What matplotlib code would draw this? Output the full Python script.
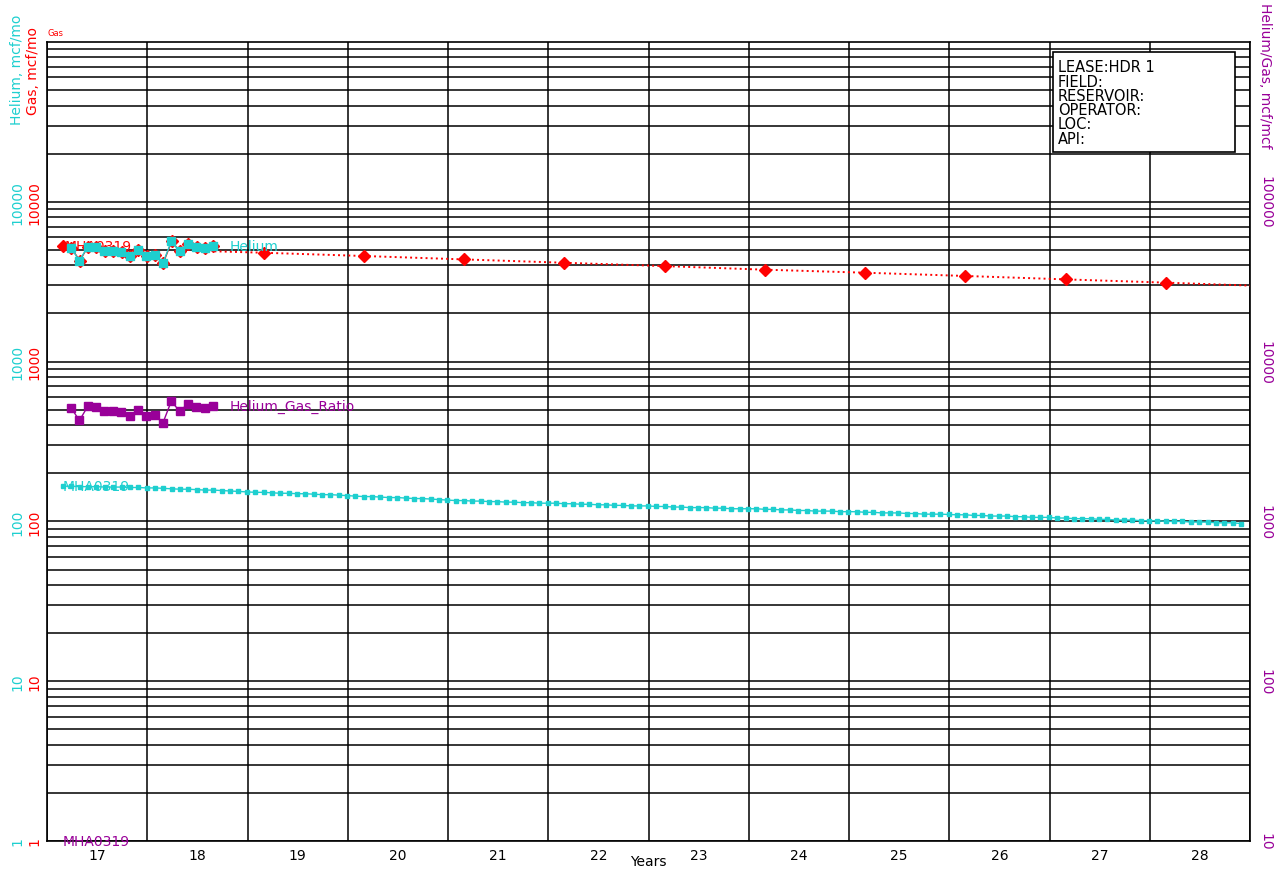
import numpy as np
import matplotlib
matplotlib.use("Agg")
import matplotlib.pyplot as plt
from matplotlib.ticker import LogLocator, NullFormatter, FixedLocator
from matplotlib.patches import Rectangle

# colours used for each stream
GAS_C = '#ff0000'
HE_C = '#1ecfcf'
RATIO_C = '#990099'

# monthly history, first month of gas is Feb/Mar 2017
gas_start = 2017.16
he_start = 2017.24
gas_hist = [5310, 5140, 4280, 5250, 5180, 4940, 4940, 4820, 4550, 5010,
            4550, 4620, 4140, 5650, 4890, 5440, 5180, 5140, 5310]
he_hist = [5140, 4280, 5250, 5180, 4940, 4940, 4820, 4550, 5010,
           4550, 4620, 4140, 5650, 4890, 5440, 5180, 5140, 5310]
ratio_hist = [5140, 4280, 5250, 5180, 4940, 4940, 4820, 4550, 5010,
              4550, 4620, 4140, 5650, 4890, 5440, 5180, 5140, 5310]

# gas forecast, yearly points
gas_fc_years = [2018.67, 2019.16, 2020.16, 2021.16, 2022.16, 2023.16, 2024.16,
                2025.16, 2026.16, 2027.16, 2028.16, 2029.0]
gas_fc = [4900, 4800, 4580, 4360, 4155, 3960, 3760, 3600, 3435, 3270, 3120, 2990]

# helium forecast, monthly
he_fc = [166, 166, 165, 165, 165, 164, 164, 164, 163, 163,
         162, 162, 161, 160, 159, 159, 158, 157, 157, 156, 155, 154,
         153, 152, 152, 151, 150, 150, 149, 149, 148, 147, 147, 146,
         145, 144, 143, 143, 142, 141, 141, 140, 139, 139, 138, 137,
         136, 135, 135, 134, 134, 133, 133, 132, 132, 131, 131, 130,
         130, 130, 129, 129, 128, 128, 127, 127, 126, 126, 125, 125,
         125, 124, 124, 123, 123, 122, 122, 122, 121, 121, 120, 120,
         120, 120, 119, 119, 118, 118, 117, 117, 116, 116, 116, 115,
         115, 115, 114, 114, 113, 113, 113, 112, 112, 111, 111, 111,
         110.5, 110, 110, 109, 109, 108, 108, 108, 107, 107, 106, 106,
         106, 105, 105, 104, 104, 104, 103, 103, 102, 102, 102, 101,
         101, 101, 100, 100, 100, 99, 99, 99, 98, 98, 98, 97]

years = list(range(2017, 2030))
year_labels = ['17', '18', '19', '20', '21', '22', '23', '24', '25', '26', '27', '28']
well = 'MHA0319'
lease_info = ['LEASE:HDR 1', 'FIELD:', 'RESERVOIR:', 'OPERATOR:', 'LOC:', 'API:']

gas_t = gas_start + np.arange(len(gas_hist)) / 12
he_t = he_start + np.arange(len(he_hist)) / 12
fc_t = gas_start + np.arange(len(he_fc)) / 12

plt.rcParams['font.family'] = 'DejaVu Sans'
fig = plt.figure(figsize=(12.78, 8.70), dpi=100)
ax = fig.add_axes([47/1278, 28/870, 1203/1278, 799/870])
ax_he = ax.twinx()
ax_r = ax.twinx()

for a in (ax, ax_he):
    a.set_yscale('log')
    a.set_ylim(1, 1e5)
ax_r.set_yscale('log')
ax_r.set_ylim(10, 1e6)
ax.set_xlim(2017, 2029)

# grid: every year, every log step
ax.set_xticks(years)
ax.set_xticklabels([])
ax.set_xticks([y + 0.5 for y in years[:-1]], minor=True)
ax.set_xticklabels(year_labels, minor=True)
ax.tick_params(axis='x', which='both', length=0, pad=5, labelsize=10)
ax.yaxis.set_minor_locator(LogLocator(base=10, subs=range(2, 10)))
ax.yaxis.set_minor_formatter(NullFormatter())
ax.grid(axis='x', which='major', color='black', lw=1.1)
ax.grid(axis='y', which='both', color='black', lw=1.1)
ax.set_axisbelow(True)
for s in ax.spines.values():
    s.set_linewidth(1.2)
fig.text(648/1278, 1 - 862/870, 'Years', fontsize=10, ha='center', va='center')

# left labels: gas (inner, red) and helium (outer, cyan)
ax.yaxis.set_major_locator(FixedLocator([1, 10, 100, 1000, 10000]))
ax.set_yticklabels(['1', '10', '100', '1000', '10000'])
ax.tick_params(axis='y', which='both', length=0, pad=4, labelsize=10,
               labelcolor=GAS_C, labelrotation=90)

ax_he.yaxis.tick_left()
ax_he.spines['left'].set_position(('outward', 12))
for s in ax_he.spines.values():
    s.set_visible(False)
ax_he.yaxis.set_major_locator(FixedLocator([1, 10, 100, 1000, 10000]))
ax_he.set_yticklabels(['1', '10', '100', '1000', '10000'])
ax_he.yaxis.set_minor_formatter(NullFormatter())
ax_he.tick_params(axis='y', which='both', length=0, pad=4, labelsize=10,
                  labelcolor=HE_C, labelrotation=90)

ax_r.yaxis.set_major_locator(FixedLocator([10, 100, 1000, 10000, 100000]))
ax_r.set_yticklabels(['10', '100', '1000', '10000', '100000'])
ax_r.yaxis.set_minor_formatter(NullFormatter())
for s in ax_r.spines.values():
    s.set_visible(False)
ax_r.tick_params(axis='y', which='both', length=0, pad=6, labelsize=10,
                 labelcolor=RATIO_C, labelrotation=-90)

# rotated labels sit centred on their tick
for a in (ax, ax_he, ax_r):
    for lab in a.get_yticklabels():
        lab.set_verticalalignment('center')

# gas history and forecast
ax.text(gas_t[0] + 0.02, gas_hist[0], well, color=GAS_C, fontsize=10,
        ha='left', va='center', zorder=2)
ax.plot(gas_t, gas_hist, color=GAS_C, lw=1, marker='D', ms=6.5, zorder=3)
ax.plot(gas_fc_years, gas_fc, color=GAS_C, lw=1.4, ls=':', marker='D', ms=6,
        markevery=slice(1, -1), zorder=3)

# helium history and forecast
ax_he.plot(he_t, he_hist, color=HE_C, lw=1, marker='s', ms=5.5, zorder=3)
ax_he.plot(fc_t, he_fc, color=HE_C, lw=1, marker='s', ms=3.5, zorder=3)
ax_he.text(fc_t[0], he_fc[0], well, color=HE_C, fontsize=10, ha='left', va='center')
ax_he.annotate('Helium', (he_t[-1], he_hist[-1]), xytext=(12, 0),
               textcoords='offset points', color=HE_C, fontsize=10, va='center')

# helium/gas ratio
ax_r.plot(he_t, ratio_hist, color=RATIO_C, lw=1, marker='s', ms=5.5, zorder=3)
ax_r.annotate('Helium_Gas_Ratio', (he_t[-1], ratio_hist[-1]), xytext=(12, 0),
              textcoords='offset points', color=RATIO_C, fontsize=10, va='center')
ax_r.text(fc_t[0], 10, well, color=RATIO_C, fontsize=10, ha='left', va='center')

# axis titles
fig.text(17/1278, 1 - 125/870, 'Helium, mcf/mo', color=HE_C, fontsize=10,
         rotation=90, ha='center', va='bottom')
fig.text(33/1278, 1 - 115/870, 'Gas, mcf/mo', color=GAS_C, fontsize=10,
         rotation=90, ha='center', va='bottom')
fig.text(1265/1278, 1 - 3/870, 'Helium/Gas, mcf/mcf', color=RATIO_C, fontsize=10,
         rotation=-90, ha='center', va='top')
fig.text(47/1278, 1 - 33/870, 'Gas', color=GAS_C, fontsize=6, ha='left', va='center')

# lease info box
fig.patches.append(Rectangle((1053/1278, 1 - 153/870), 182/1278, 100/870,
                             transform=fig.transFigure, facecolor='white',
                             edgecolor='black', lw=1.2, zorder=5))
for i, line in enumerate(lease_info):
    fig.text(1058/1278, 1 - (68 + i * 14.2)/870, line, fontsize=10.5,
             ha='left', va='center', zorder=6)

fig.savefig('out.png', dpi=100)
